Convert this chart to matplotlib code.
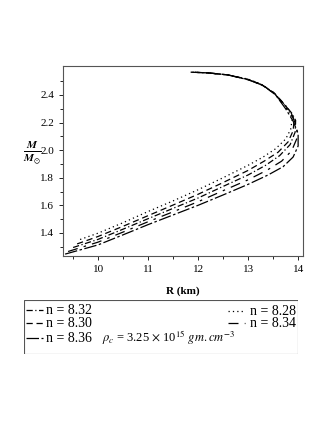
import numpy as np
import matplotlib
matplotlib.use("Agg")
from matplotlib import pyplot as plt
from matplotlib.patches import Rectangle

# =============================================================================
# data (R in km, M in solar masses)
# =============================================================================
n_labels = ["8.28", "8.30", "8.32", "8.34", "8.36"]

R_828 = [9.64, 10.0, 10.5, 11.0, 11.5, 12.0, 12.5, 13.0, 13.3, 13.55, 13.75, 13.85,
         13.88, 13.84, 13.7, 13.5, 13.25, 13.0, 12.6, 12.2, 11.9]
M_828 = [1.352, 1.398, 1.474, 1.555, 1.632, 1.713, 1.80, 1.89, 1.95, 2.01, 2.08, 2.15,
         2.22, 2.27, 2.34, 2.42, 2.48, 2.515, 2.545, 2.56, 2.565]

R_830 = [9.58, 10.0, 10.5, 11.0, 11.5, 12.0, 12.5, 13.0, 13.32, 13.6, 13.8, 13.9,
         13.92, 13.86, 13.72, 13.52, 13.27, 13.0, 12.6, 12.2, 11.88]
M_830 = [1.32, 1.374, 1.448, 1.525, 1.602, 1.68, 1.765, 1.853, 1.92, 1.985, 2.06, 2.14,
         2.22, 2.27, 2.335, 2.415, 2.475, 2.513, 2.545, 2.56, 2.565]

R_832 = [9.50, 10.0, 10.5, 11.0, 11.5, 12.0, 12.5, 13.0, 13.35, 13.63, 13.84, 13.94,
         13.95, 13.88, 13.73, 13.53, 13.28, 13.0, 12.6, 12.2, 11.87]
M_832 = [1.294, 1.353, 1.427, 1.503, 1.578, 1.653, 1.737, 1.82, 1.89, 1.96, 2.04, 2.13,
         2.215, 2.265, 2.33, 2.41, 2.472, 2.512, 2.545, 2.56, 2.565]

R_834 = [9.40, 10.0, 10.5, 11.0, 11.5, 12.0, 12.5, 13.0, 13.38, 13.67, 13.87, 13.97,
         13.98, 13.89, 13.74, 13.54, 13.29, 13.0, 12.6, 12.2, 11.86]
M_834 = [1.265, 1.333, 1.406, 1.481, 1.553, 1.626, 1.706, 1.785, 1.855, 1.92, 1.995, 2.08,
         2.165, 2.24, 2.315, 2.405, 2.47, 2.511, 2.545, 2.56, 2.565]

R_836 = [9.34, 10.0, 10.5, 11.0, 11.5, 12.0, 12.5, 13.0, 13.4, 13.7, 13.9, 14.0,
         14.0, 13.9, 13.75, 13.55, 13.3, 13.0, 12.6, 12.2, 11.85]
M_836 = [1.246, 1.313, 1.386, 1.46, 1.53, 1.60, 1.675, 1.752, 1.82, 1.88, 1.95, 2.03,
         2.12, 2.21, 2.30, 2.40, 2.47, 2.51, 2.545, 2.56, 2.565]

x_ticks = [10, 11, 12, 13, 14]
y_ticks = [1.4, 1.6, 1.8, 2.0, 2.2, 2.4]

# line styles (maple-ish)
styles = {
    "8.28": (0, (1, 2.5)),
    "8.30": (0, (5, 3)),
    "8.32": (0, (5, 2, 1, 2)),
    "8.34": (0, (8, 5, 2, 5)),
    "8.36": (0, (10, 2, 2, 2)),
}

plt.rcParams['font.family'] = ['Liberation Serif', 'DejaVu Serif']
plt.rcParams['mathtext.fontset'] = 'stix'

fig = plt.figure(figsize=(3.27, 4.23), dpi=100)
ax = fig.add_axes([0.193, 0.395, 0.734, 0.449])

curves = {"8.28": (R_828, M_828), "8.30": (R_830, M_830), "8.32": (R_832, M_832),
          "8.34": (R_834, M_834), "8.36": (R_836, M_836)}
for n in n_labels:
    R, M = curves[n]
    ax.plot(R, M, color='k', lw=0.9, linestyle=styles[n])

ax.set_xlim(9.3, 14.1)
ax.set_ylim(1.233, 2.61)
ax.set_xticks(x_ticks)
ax.set_yticks(y_ticks)
ax.set_xticks(np.arange(9.5, 14.1, 0.5), minor=True)
ax.set_yticks(np.arange(1.3, 2.6, 0.1), minor=True)
ax.tick_params(which='both', direction='out', labelsize=8, width=0.6)
ax.tick_params(which='major', length=3)
ax.tick_params(which='minor', length=2)
ax.set_yticklabels([f"{v:.1f}" for v in y_ticks])
for s in ax.spines.values():
    s.set_linewidth(0.8)
    s.set_color('#555555')

ax.set_xlabel("R (km)", fontsize=8, fontweight='bold', labelpad=9)
fig.text(0.098, 0.64, r'$\frac{\mathbfit{M}}{\mathbfit{M}_{\odot}}$', fontsize=11.5,
         ha='center', va='center')

# =============================================================================
# legend box drawn by hand
# =============================================================================
lax = fig.add_axes([24/327, 1-354/423, 274/327, 54/423])
lax.set_xlim(0, 274)
lax.set_ylim(54, 0)
lax.axis('off')
lax.add_patch(Rectangle((0, 0), 274, 54, fill=False, lw=0.8, ec='#555555'))

left_rows = [("8.32", 10), ("8.30", 23), ("8.36", 38)]
for n, yy in left_rows:
    lax.plot([2, 19], [yy, yy], color='k', lw=0.9, linestyle=styles[n])
    lax.text(22, yy, "n = " + n, fontsize=10, va='center', ha='left')

right_rows = [("8.28", 11), ("8.34", 23)]
for n, yy in right_rows:
    lax.plot([204, 221], [yy, yy], color='k', lw=0.9, linestyle=styles[n])
    lax.text(272, yy, "n = " + n, fontsize=10, va='center', ha='right')

lax.text(78, 38, r'$\rho_c$ = 3.25 $\times$ 10$^{15}$ $gm.cm^{-3}$', fontsize=9,
         va='center', ha='left')

fig.savefig("out.png", dpi=100)
